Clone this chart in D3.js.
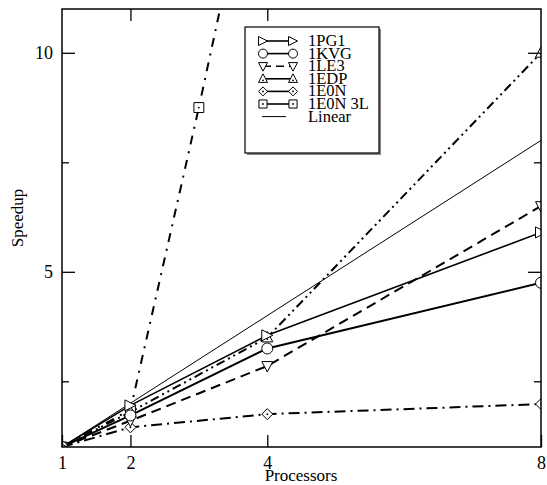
<!DOCTYPE html>
<html>
<head>
<meta charset="utf-8">
<script src="https://cdn.jsdelivr.net/npm/d3@7"></script>
<style>
  body { margin: 0; background: #fff; }
  text { font-family: "Liberation Serif", "DejaVu Serif", serif; fill: #000; }
</style>
</head>
<body>
<div id="chart"></div>
<script>
// processor counts and speedups
var procs = [1, 2, 4, 8];
var procs3L = [1, 2, 3, 4];
var pg1 = [1, 1.95, 3.55, 5.9];
var kvg = [1, 1.72, 3.25, 4.75];
var le3 = [1, 1.6, 2.85, 6.5];
var edp = [1, 1.8, 3.5, 10];
var e0n = [1, 1.45, 1.75, 1.98];
var e0n3L = [1, 1.85, 8.75, 16];
var linear = [1, 8];
var xTicks = [1, 2, 4, 8];
var yMajor = [5, 10];
var yMinor = [2.5, 7.5];

var width = 547, height = 485;
var margin = { top: 9, left: 62, bottom: 38, right: 6 };

var series = [
  { name: "1PG1", x: procs, y: pg1, dash: null, w: 1.6, sym: "right" },
  { name: "1KVG", x: procs, y: kvg, dash: null, w: 2, sym: "circle" },
  { name: "1LE3", x: procs, y: le3, dash: "10,6", w: 2, sym: "down" },
  { name: "1EDP", x: procs, y: edp, dash: "9,4,2,4,2,4", w: 2, sym: "up" },
  { name: "1E0N", x: procs, y: e0n, dash: "11,5,2,5", w: 2, sym: "diamond" },
  { name: "1E0N 3L", x: procs3L, y: e0n3L, dash: "9,7,2,7", w: 2, sym: "square" },
  { name: "Linear", x: [1, 8], y: linear, dash: null, w: 1, sym: null }
];

var svg = d3.select("#chart").append("svg")
  .attr("width", width)
  .attr("height", height);

var xScale = d3.scaleLinear().domain([1, 8])
  .range([margin.left, width - margin.right]);
var yScale = d3.scaleLinear().domain([1, 11])
  .range([height - margin.bottom, margin.top]);

svg.append("clipPath").attr("id", "clip")
  .append("rect")
  .attr("x", margin.left).attr("y", margin.top)
  .attr("width", width - margin.left - margin.right)
  .attr("height", height - margin.top - margin.bottom);

// markers
function drawSymbol(g, sym, cx, cy, s) {
  if (sym === "circle") {
    g.append("circle").attr("cx", cx).attr("cy", cy).attr("r", s)
      .attr("fill", "#fff").attr("stroke", "#000").attr("stroke-width", 1);
    return;
  }
  var pts;
  if (sym === "right") pts = [[-s, -s], [s, 0], [-s, s]];
  if (sym === "up") pts = [[-s, s * 0.8], [0, -s * 1.1], [s, s * 0.8]];
  if (sym === "down") pts = [[-s, -s * 0.8], [0, s * 1.1], [s, -s * 0.8]];
  if (sym === "diamond") pts = [[0, -s], [s, 0], [0, s], [-s, 0]];
  if (sym === "square") pts = [[-s * 0.9, -s * 0.9], [s * 0.9, -s * 0.9], [s * 0.9, s * 0.9], [-s * 0.9, s * 0.9]];
  g.append("polygon")
    .attr("points", pts.map(function (p) { return (cx + p[0]) + "," + (cy + p[1]); }).join(" "))
    .attr("fill", "#fff").attr("stroke", "#000").attr("stroke-width", 1);
  if (sym === "up" || sym === "diamond" || sym === "square") {
    g.append("circle").attr("cx", cx).attr("cy", cy + (sym === "up" ? 1.5 : 0)).attr("r", 0.9).attr("fill", "#000");
  }
}

var line = d3.line()
  .x(function (d) { return xScale(d[0]); })
  .y(function (d) { return yScale(d[1]); });

var plot = svg.append("g").attr("clip-path", "url(#clip)");

series.slice().reverse().forEach(function (s) {
  var pts = s.x.map(function (x, i) { return [x, s.y[i]]; });
  plot.append("path")
    .datum(pts)
    .attr("d", line)
    .attr("fill", "none")
    .attr("stroke", "#000")
    .attr("stroke-width", s.w)
    .attr("stroke-dasharray", s.dash);
});

series.slice().reverse().forEach(function (s) {
  if (!s.sym) return;
  s.x.forEach(function (x, i) {
    if (s.y[i] > 11) return;
    drawSymbol(plot, s.sym, xScale(x), yScale(s.y[i]), 5.5);
  });
});

// frame
svg.append("rect")
  .attr("x", margin.left).attr("y", margin.top)
  .attr("width", width - margin.left - margin.right)
  .attr("height", height - margin.top - margin.bottom)
  .attr("fill", "none").attr("stroke", "#000").attr("stroke-width", 1.5);

// axes, ticks pointing inward
var xBottom = d3.axisBottom(xScale).tickValues(xTicks).tickFormat(d3.format("d"))
  .tickSizeInner(-12).tickSizeOuter(0).tickPadding(16);
var gX = svg.append("g")
  .attr("transform", "translate(0," + (height - margin.bottom) + ")")
  .call(xBottom);
var xTop = d3.axisTop(xScale).tickValues([2, 4]).tickSizeInner(-12).tickSizeOuter(0).tickFormat("");
var gXT = svg.append("g").attr("transform", "translate(0," + margin.top + ")").call(xTop);

var yLeft = d3.axisLeft(yScale).tickValues(yMajor).tickFormat(d3.format("d"))
  .tickSizeInner(-13).tickSizeOuter(0).tickPadding(9);
var gY = svg.append("g").attr("transform", "translate(" + margin.left + ",0)").call(yLeft);
var yLeftMinor = d3.axisLeft(yScale).tickValues(yMinor).tickSizeInner(-7).tickSizeOuter(0).tickFormat("");
var gYm = svg.append("g").attr("transform", "translate(" + margin.left + ",0)").call(yLeftMinor);
var yRight = d3.axisRight(yScale).tickValues(yMajor).tickSizeInner(-13).tickSizeOuter(0).tickFormat("");
var gYR = svg.append("g").attr("transform", "translate(" + (width - margin.right) + ",0)").call(yRight);
var yRightMinor = d3.axisRight(yScale).tickValues(yMinor).tickSizeInner(-7).tickSizeOuter(0).tickFormat("");
var gYRm = svg.append("g").attr("transform", "translate(" + (width - margin.right) + ",0)").call(yRightMinor);

[gX, gXT, gY, gYm, gYR, gYRm].forEach(function (g) {
  g.select(".domain").remove();
  g.selectAll(".tick line").attr("stroke", "#000").attr("stroke-width", 1.3);
  g.selectAll(".tick text")
    .style("font-family", "'Liberation Serif', serif")
    .style("font-size", "18px").attr("fill", "#000");
});
gX.selectAll(".tick text").attr("dy", "0.35em");

// axis titles
svg.append("text")
  .attr("x", 301).attr("y", 481)
  .attr("text-anchor", "middle")
  .style("font-size", "17px")
  .text("Processors");
svg.append("text")
  .attr("transform", "translate(23,218) rotate(-90)")
  .attr("text-anchor", "middle")
  .style("font-size", "17px")
  .text("Speedup");

// legend
var lg = svg.append("g");
var lx = 245, ly = 27, lw = 134, lh = 126;
lg.append("rect").attr("x", lx + 2).attr("y", ly + 2).attr("width", lw).attr("height", lh)
  .attr("fill", "#888");
lg.append("rect").attr("x", lx).attr("y", ly).attr("width", lw).attr("height", lh)
  .attr("fill", "#fff").attr("stroke", "#000").attr("stroke-width", 1.2);

series.forEach(function (s, i) {
  var yy = 41 + i * 12.6;
  var x0 = s.sym ? 263 : 262, x1 = s.sym ? 293 : 286;
  lg.append("line")
    .attr("x1", x0).attr("x2", x1).attr("y1", yy).attr("y2", yy)
    .attr("stroke", "#000").attr("stroke-width", s.name === "Linear" ? 1 : 1.6)
    .attr("stroke-dasharray", s.name === "1LE3" ? "8,5" : null);
  if (s.sym) {
    drawSymbol(lg, s.sym, x0, yy, 4.5);
    drawSymbol(lg, s.sym, x1, yy, 4.5);
  }
  lg.append("text")
    .attr("x", 308).attr("y", yy + 5)
    .style("font-size", "16.5px")
    .text(s.name);
});
</script>
</body>
</html>
